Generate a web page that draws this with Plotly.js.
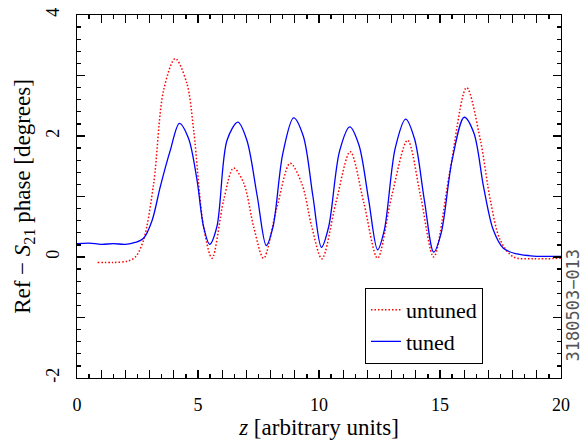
<!DOCTYPE html>
<html>
<head>
<meta charset="utf-8">
<script src="https://cdn.plot.ly/plotly-3.0.1.min.js"></script>
<style>html,body{margin:0;padding:0;background:#fff;}</style>
</head>
<body>
<div id="chart" style="width:586px;height:440px;"></div>
<script>
// tuned (blue, solid)
const tunedZ = [0, 0.5, 1.0, 1.5, 2.0, 2.4, 2.75, 3.1, 3.44, 3.86, 4.23, 4.61, 4.96, 5.23, 5.48, 5.78, 6.2, 6.65, 7.02, 7.45, 7.82, 8.1, 8.5, 8.95, 9.35, 9.75, 10.1, 10.4, 10.85, 11.27, 11.65, 12.05, 12.42, 12.7, 13.15, 13.58, 13.95, 14.35, 14.74, 15.05, 15.5, 16.0, 16.4, 16.8, 17.2, 17.63, 18.18, 18.86, 20];
const tunedPhase = [0.22, 0.23, 0.21, 0.22, 0.21, 0.24, 0.31, 0.6, 1.16, 1.77, 2.21, 1.96, 1.27, 0.5, 0.21, 0.5, 1.93, 2.23, 1.93, 1.0, 0.19, 0.5, 1.7, 2.30, 2.0, 1.0, 0.16, 0.5, 1.75, 2.15, 1.85, 0.95, 0.12, 0.45, 1.8, 2.28, 1.95, 0.95, 0.08, 0.4, 1.6, 2.31, 2.05, 1.16, 0.45, 0.14, 0.05, 0.016, 0.01];
// untuned (red, dotted)
const untunedZ = [0.85, 1.5, 2.07, 2.41, 2.75, 3.17, 3.58, 4.06, 4.54, 4.82, 5.23, 5.58, 6.06, 6.47, 6.89, 7.3, 7.71, 8.25, 8.81, 9.3, 9.7, 10.12, 10.7, 11.29, 11.85, 12.42, 13.0, 13.66, 14.2, 14.74, 15.4, 16.1, 16.67, 17.08, 17.49, 18.04, 18.87, 20];
const untunedPhase = [-0.09, -0.09, -0.07, 0.0, 0.28, 1.22, 2.76, 3.28, 2.87, 2.10, 0.50, -0.02, 0.94, 1.47, 1.22, 0.5, -0.02, 0.8, 1.55, 1.2, 0.5, -0.03, 0.9, 1.74, 0.9, -0.02, 1.0, 1.93, 1.0, 0.0, 1.4, 2.80, 1.93, 0.94, 0.28, 0.0, -0.03, -0.02];

// tick labels
const xMajorTicks = [0, 5, 10, 15, 20];
const yMajorTicks = [-2, 0, 2, 4];
const xTickVals = [0,1,2,3,4,5,6,7,8,9,10,11,12,13,14,15,16,17,18,19,20];
const yTickVals = [-2,-1,0,1,2,3,4];
const seriesNames = ['untuned', 'tuned'];
const xTitle = '<i>z</i> [arbitrary units]';
const yTitle = 'Ref − <i>S</i><sub>21</sub> phase [degrees]';
const figLabel = '3180503−013';

const serif = 'Liberation Serif';
const xr = [0, 20], yr = [-2, 4];

const data = [
  {x: untunedZ, y: untunedPhase, type: 'scatter', mode: 'lines', name: seriesNames[0],
   line: {color: '#ff0000', width: 1.5, dash: '1.5px,2px', shape: 'spline', smoothing: 0.9}},
  {x: tunedZ, y: tunedPhase, type: 'scatter', mode: 'lines', name: seriesNames[1],
   line: {color: '#0000ff', width: 1.3, shape: 'spline', smoothing: 0.9}}
];

const layout = {
  width: 586, height: 440,
  margin: {l: 77, r: 25, t: 15, b: 62},
  font: {family: serif, color: '#000', size: 18},
  showlegend: true,
  legend: {x: 0.595, y: 0.248, xanchor: 'left', yanchor: 'top',
    bordercolor: '#000', borderwidth: 1, bgcolor: '#fff',
    font: {family: serif, size: 22, color: '#000'}},
  xaxis: {range: xr, showline: true, mirror: 'allticks', linecolor: '#000', linewidth: 1,
    showgrid: false, zeroline: false,
    ticks: 'inside', ticklen: 8, tickcolor: '#000', tickwidth: 1.3,
    tickvals: xTickVals, ticktext: xTickVals.map(v => xMajorTicks.includes(v) ? String(v) : ''),
    ticklabelstandoff: 10, tickfont: {family: serif, size: 18},
    minor: {ticks: 'inside', dtick: 0.5, ticklen: 4, tickwidth: 1.3, tickcolor: '#000'},
    title: {text: xTitle, font: {family: serif, size: 23}, standoff: 6}},
  yaxis: {range: yr, showline: true, mirror: 'allticks', linecolor: '#000', linewidth: 1,
    showgrid: false, zeroline: false,
    ticks: 'inside', ticklen: 8, tickcolor: '#000', tickwidth: 1.3,
    tickvals: yTickVals, ticktext: yTickVals.map(v => yMajorTicks.includes(v) ? String(v) : ''),
    ticklabelstandoff: 10, tickangle: -90, tickfont: {family: serif, size: 18},
    minor: {ticks: 'inside', dtick: 0.2, ticklen: 4, tickwidth: 1.3, tickcolor: '#000'},
    title: {text: yTitle, font: {family: serif, size: 23}, standoff: 5}},
  annotations: [{
    text: figLabel, xref: 'paper', yref: 'paper', x: 1.025, y: 0.2,
    xanchor: 'center', yanchor: 'middle', textangle: -90, showarrow: false,
    font: {family: 'DejaVu Sans Mono', size: 17, color: '#555'}
  }]
};

Plotly.newPlot('chart', data, layout, {staticPlot: true});
</script>
</body>
</html>
